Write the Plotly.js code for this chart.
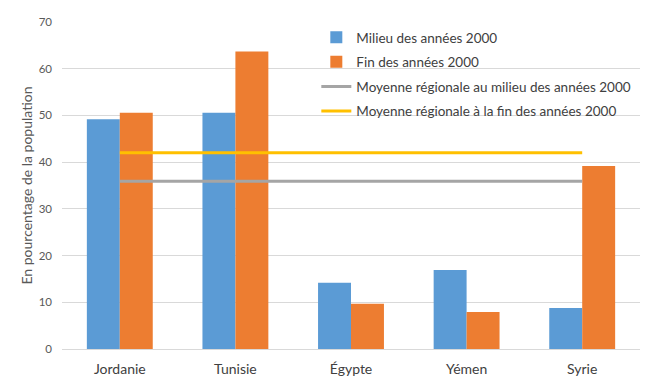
<!DOCTYPE html>
<html>
<head>
<meta charset="utf-8">
<script src="https://cdn.plot.ly/plotly-3.0.1.min.js"></script>
<style>html,body{margin:0;padding:0;background:#fff;}#chart{width:656px;height:386px;}</style>
</head>
<body>
<div id="chart"></div>
<script>
const categories = ["Jordanie", "Tunisie", "Égypte", "Yémen", "Syrie"];
const milieu = [49.2, 50.6, 14.2, 16.9, 8.8];
const fin = [50.6, 63.7, 9.7, 7.9, 39.2];
const moyMilieu = [35.9, 35.9, 35.9, 35.9, 35.9];
const moyFin = [42, 42, 42, 42, 42];
const seriesNames = [
  "Milieu des années 2000",
  "Fin des années 2000",
  "Moyenne régionale au milieu des années 2000",
  "Moyenne régionale à la fin des années 2000"
];
const yTitle = "En pourcentage de la population";

const traces = [
  {type: "bar", x: categories, y: milieu, name: seriesNames[0], marker: {color: "#5b9bd5"}, legendgroup: "a", hoverinfo: "none"},
  {type: "bar", x: categories, y: fin, name: seriesNames[1], marker: {color: "#ed7d31"}, legendgroup: "b", hoverinfo: "none"},
  {type: "scatter", mode: "lines", x: categories, y: moyMilieu, name: seriesNames[2], line: {color: "#a5a5a5", width: 3}, legendgroup: "c", hoverinfo: "none"},
  {type: "scatter", mode: "lines", x: categories, y: moyFin, name: seriesNames[3], line: {color: "#ffc000", width: 3}, legendgroup: "d", hoverinfo: "none"}
];

const layout = {
  width: 656, height: 386,
  margin: {l: 62, r: 16, t: 22, b: 37},
  paper_bgcolor: "#fff", plot_bgcolor: "#fff",
  font: {family: "Lato, 'Open Sans', sans-serif", size: 13, color: "#595959"},
  barmode: "group",
  bargap: 0.43,
  bargroupgap: 0,
  showlegend: true,
  legend: {
    x: 0.44, y: 1.0, xanchor: "left", yanchor: "top",
    bgcolor: "rgba(0,0,0,0)",
    font: {size: 13.5, color: "#404040"},
    traceorder: "grouped",
    tracegroupgap: 4,
    itemwidth: 30
  },
  xaxis: {
    type: "category",
    showgrid: false, showline: false, zeroline: false,
    ticks: "",
    ticklabelstandoff: 10,
    tickfont: {size: 14, color: "#404040"}
  },
  yaxis: {
    range: [0, 70],
    dtick: 10,
    showgrid: true, gridcolor: "#d9d9d9", gridwidth: 1,
    zeroline: true, zerolinecolor: "#d9d9d9", zerolinewidth: 1,
    showline: false, ticks: "",
    tickfont: {size: 11.5, color: "#595959"},
    ticklabelstandoff: 9,
    title: {text: yTitle, font: {size: 14, color: "#595959"}, standoff: 2}
  }
};

Plotly.newPlot("chart", traces, layout, {staticPlot: true, displayModeBar: false});
</script>
</body>
</html>
